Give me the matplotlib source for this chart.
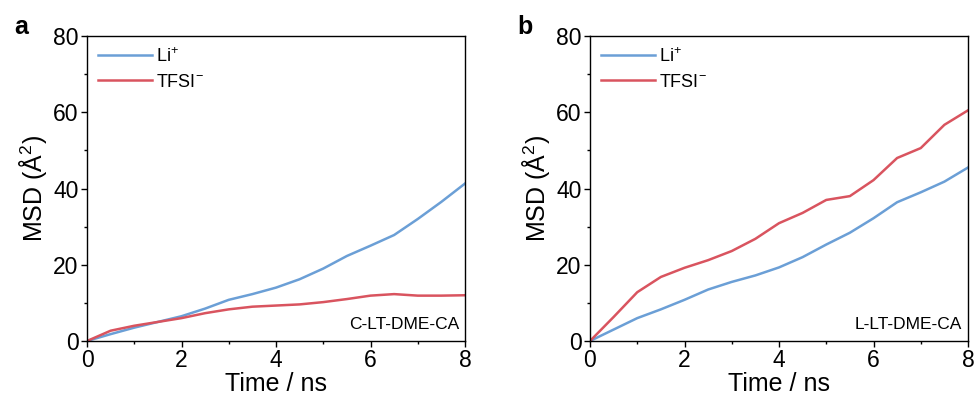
import matplotlib
matplotlib.use("Agg")
import matplotlib.pyplot as plt
from matplotlib.ticker import MultipleLocator

plt.rcParams['font.family'] = ['Liberation Sans', 'DejaVu Sans']
plt.rcParams['mathtext.fontset'] = 'custom'
plt.rcParams['mathtext.rm'] = 'Liberation Sans'
plt.rcParams['mathtext.it'] = 'Liberation Sans'

time_ns = [0, 0.5, 1, 1.5, 2, 2.5, 3, 3.5, 4, 4.5, 5, 5.5, 6, 6.5, 7, 7.5, 8]

# panel a: C-LT-DME-CA
li_a = [0, 1.8, 3.5, 5.0, 6.5, 8.5, 10.8, 12.3, 14.0, 16.2, 19.0, 22.3, 25.0, 27.8, 32.0, 36.5, 41.3]
tfsi_a = [0, 2.7, 4.0, 5.0, 6.0, 7.3, 8.3, 9.0, 9.3, 9.6, 10.2, 11.0, 11.9, 12.3, 11.9, 11.9, 12.0]

# panel b: L-LT-DME-CA
li_b = [0, 3.0, 6.0, 8.3, 10.8, 13.5, 15.5, 17.2, 19.3, 22.0, 25.3, 28.4, 32.2, 36.4, 39.0, 41.8, 45.5]
tfsi_b = [0, 6.3, 12.8, 16.8, 19.2, 21.2, 23.6, 26.8, 30.9, 33.6, 37.0, 38.0, 42.2, 48.0, 50.6, 56.7, 60.5]

panels = [("a", "C-LT-DME-CA", li_a, tfsi_a), ("b", "L-LT-DME-CA", li_b, tfsi_b)]
blue = "#6b9fd6"
red = "#d9545f"

fig = plt.figure(figsize=(9.74, 4.01), dpi=100)
lefts = [87 / 974, 590 / 974]
for i, (letter, name, li, tfsi) in enumerate(panels):
    ax = fig.add_axes([lefts[i], 60 / 401, 378 / 974, 305 / 401])
    ax.plot(time_ns, li, color=blue, lw=1.8, label="Li$^{+}$")
    ax.plot(time_ns, tfsi, color=red, lw=1.8, label="TFSI$^{-}$")
    ax.set_xlim(0, 8)
    ax.set_ylim(0, 80)
    ax.xaxis.set_major_locator(MultipleLocator(2))
    ax.xaxis.set_minor_locator(MultipleLocator(1))
    ax.yaxis.set_major_locator(MultipleLocator(20))
    ax.yaxis.set_minor_locator(MultipleLocator(10))
    ax.tick_params(which="both", direction="out", labelsize=16.5, width=1, pad=2)
    ax.tick_params(which="major", length=4)
    ax.tick_params(which="minor", length=2.5)
    for s in ax.spines.values():
        s.set_linewidth(1)
    ax.set_xlabel("Time / ns", fontsize=18, labelpad=0)
    ax.set_ylabel("MSD (Å$^{2}$)", fontsize=18, labelpad=3)
    ax.legend(loc="upper left", frameon=False, fontsize=13, handlelength=3.0,
              handletextpad=0.2, borderaxespad=0.3, borderpad=0.3, labelspacing=0.45)
    ax.text(0.985, 0.03, name, transform=ax.transAxes, ha="right", va="bottom", fontsize=12.5)
    fig.text(lefts[i] - 73 / 974, 1 - 34 / 401, letter, fontsize=18, fontweight="bold", ha="left", va="baseline")

fig.savefig("out.png", dpi=100)
